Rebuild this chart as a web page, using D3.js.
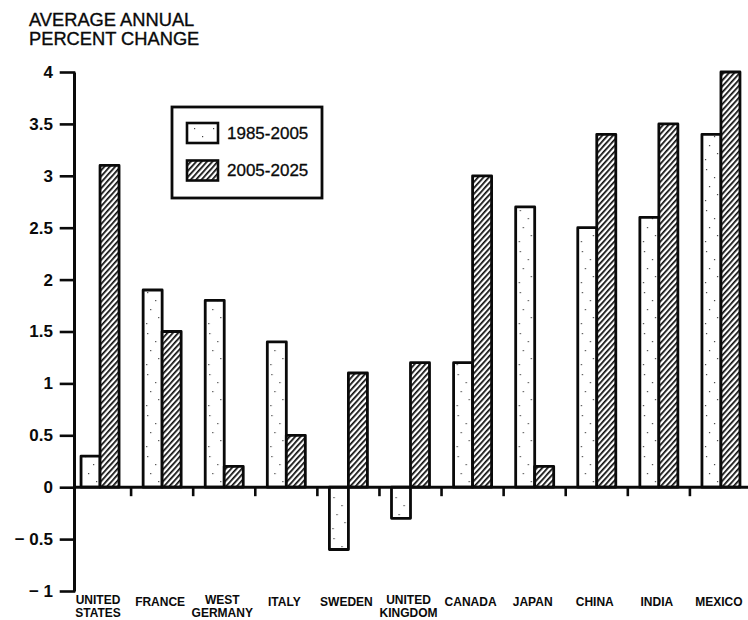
<!DOCTYPE html>
<html>
<head>
<meta charset="utf-8">
<script src="https://cdn.jsdelivr.net/npm/d3@7"></script>
<style>
  html, body { margin: 0; padding: 0; background: #fff; }
  svg { display: block; font-family: "Liberation Sans", Arial, Helvetica, sans-serif; }
</style>
</head>
<body>
<svg id="chart" width="748" height="620"></svg>
<script>
const categories = ["UNITED\nSTATES", "FRANCE", "WEST\nGERMANY", "ITALY", "SWEDEN", "UNITED\nKINGDOM", "CANADA", "JAPAN", "CHINA", "INDIA", "MEXICO"];
const seriesNames = ["1985-2005", "2005-2025"];
const values1985 = [0.3, 1.9, 1.8, 1.4, -0.6, -0.3, 1.2, 2.7, 2.5, 2.6, 3.4];
const values2005 = [3.1, 1.5, 0.2, 0.5, 1.1, 1.2, 3.0, 0.2, 3.4, 3.5, 4.0];
const yTicks = [-1, -0.5, 0, 0.5, 1, 1.5, 2, 2.5, 3, 3.5, 4];
const titleLines = ["AVERAGE ANNUAL", "PERCENT CHANGE"];

const ink = "#0a0a0a";
const svg = d3.select("#chart");
const defs = svg.append("defs");

// hatch pattern
const hatch = defs.append("pattern")
  .attr("id", "hatch").attr("patternUnits", "userSpaceOnUse")
  .attr("width", 4).attr("height", 10)
  .attr("patternTransform", "rotate(42)");
hatch.append("rect").attr("width", 4).attr("height", 10).attr("fill", "#fff");
hatch.append("rect").attr("x", 0).attr("y", 0).attr("width", 1.7).attr("height", 10).attr("fill", ink);

// light stipple pattern
const stip = defs.append("pattern")
  .attr("id", "stipple").attr("patternUnits", "userSpaceOnUse")
  .attr("width", 19).attr("height", 41);
stip.append("rect").attr("width", 19).attr("height", 41).attr("fill", "#fff");
[[4,5],[12,13],[7,22],[15,30],[3,36]].forEach(([cx, cy]) => {
  stip.append("rect").attr("x", cx).attr("y", cy).attr("width", 1.2).attr("height", 1.2).attr("fill", "#444");
});

const fills = { "1985-2005": "url(#stipple)", "2005-2025": "url(#hatch)" };

const y = d3.scaleLinear().domain([-1, 4]).range([591, 72]);
const x = d3.scaleBand().domain(categories).range([69, 752]).paddingInner(0).paddingOuter(0);
const barW = 19;
const x1 = d3.scaleBand().domain(seriesNames).range([0, barW * 2]);

// Title
svg.append("g").selectAll("text").data(titleLines).join("text")
  .attr("x", 29).attr("y", (d, i) => 26 + i * 19)
  .attr("font-size", 18.3).attr("fill", ink)
  .attr("stroke", ink).attr("stroke-width", 0.35)
  .text(d => d);

// Bars
const data = categories.map((c, i) => ({ cat: c, vals: [
  { s: seriesNames[0], v: values1985[i] },
  { s: seriesNames[1], v: values2005[i] }
]}));

const groups = svg.append("g").selectAll("g").data(data).join("g")
  .attr("transform", d => `translate(${x(d.cat) + x.bandwidth() / 2 - barW},0)`);
groups.selectAll("rect").data(d => d.vals).join("rect")
  .attr("x", d => x1(d.s))
  .attr("width", x1.bandwidth())
  .attr("y", d => Math.min(y(d.v), y(0)))
  .attr("height", d => Math.abs(y(d.v) - y(0)))
  .attr("fill", d => fills[d.s])
  .attr("stroke", ink).attr("stroke-width", 2.8).attr("stroke-linejoin", "round");

// Y axis
const yAxis = d3.axisLeft(y).tickValues(yTicks).tickSize(13).tickSizeOuter(0).tickPadding(8)
  .tickFormat(d => d < 0 ? "\u2212 " + Math.abs(d) : String(d));
const yg = svg.append("g").attr("transform", "translate(74,0)").call(yAxis);
yg.select(".domain").attr("stroke", ink).attr("stroke-width", 3);
yg.selectAll(".tick line").attr("stroke", ink).attr("stroke-width", 2.6).attr("stroke-linecap", "square");
yg.selectAll(".tick text").attr("font-size", 17).attr("font-weight", "bold").attr("fill", ink)
  .attr("font-family", "\"Liberation Sans\", Arial, sans-serif");

// Zero line
svg.append("line").attr("x1", 73).attr("x2", 748).attr("y1", y(0)).attr("y2", y(0))
  .attr("stroke", ink).attr("stroke-width", 3);

// category separator ticks
svg.append("g").selectAll("line").data(categories.slice(1)).join("line")
  .attr("x1", d => x(d)).attr("x2", d => x(d))
  .attr("y1", y(0)).attr("y2", y(0) + 9)
  .attr("stroke", ink).attr("stroke-width", 2.6);

// Category labels
const lab = svg.append("g").selectAll("text").data(categories).join("text")
  .attr("text-anchor", "middle").attr("font-size", 12).attr("font-weight", "bold").attr("fill", ink);
lab.each(function(d) {
  const lines = d.split("\n");
  const cx = x(d) + x.bandwidth() / 2 - 2;
  const t = d3.select(this);
  lines.forEach((ln, i) => {
    t.append("tspan").attr("x", cx)
      .attr("y", lines.length === 1 ? 606 : 604 + i * 12.5)
      .text(ln);
  });
});

// Legend
const lg = svg.append("g");
lg.append("rect").attr("x", 172).attr("y", 107).attr("width", 150).attr("height", 91)
  .attr("fill", "#fff").attr("stroke", ink).attr("stroke-width", 2.8);
const items = lg.selectAll("g").data(seriesNames).join("g")
  .attr("transform", (d, i) => `translate(0,${i * 37.5})`);
items.append("rect").attr("x", 187).attr("y", 123).attr("width", 31).attr("height", 20)
  .attr("fill", d => fills[d]).attr("stroke", ink).attr("stroke-width", 2.6);
items.append("text").attr("x", 227).attr("y", 138.5).attr("font-size", 17).attr("fill", ink)
  .attr("stroke", ink).attr("stroke-width", 0.3).text(d => d);
</script>
</body>
</html>
